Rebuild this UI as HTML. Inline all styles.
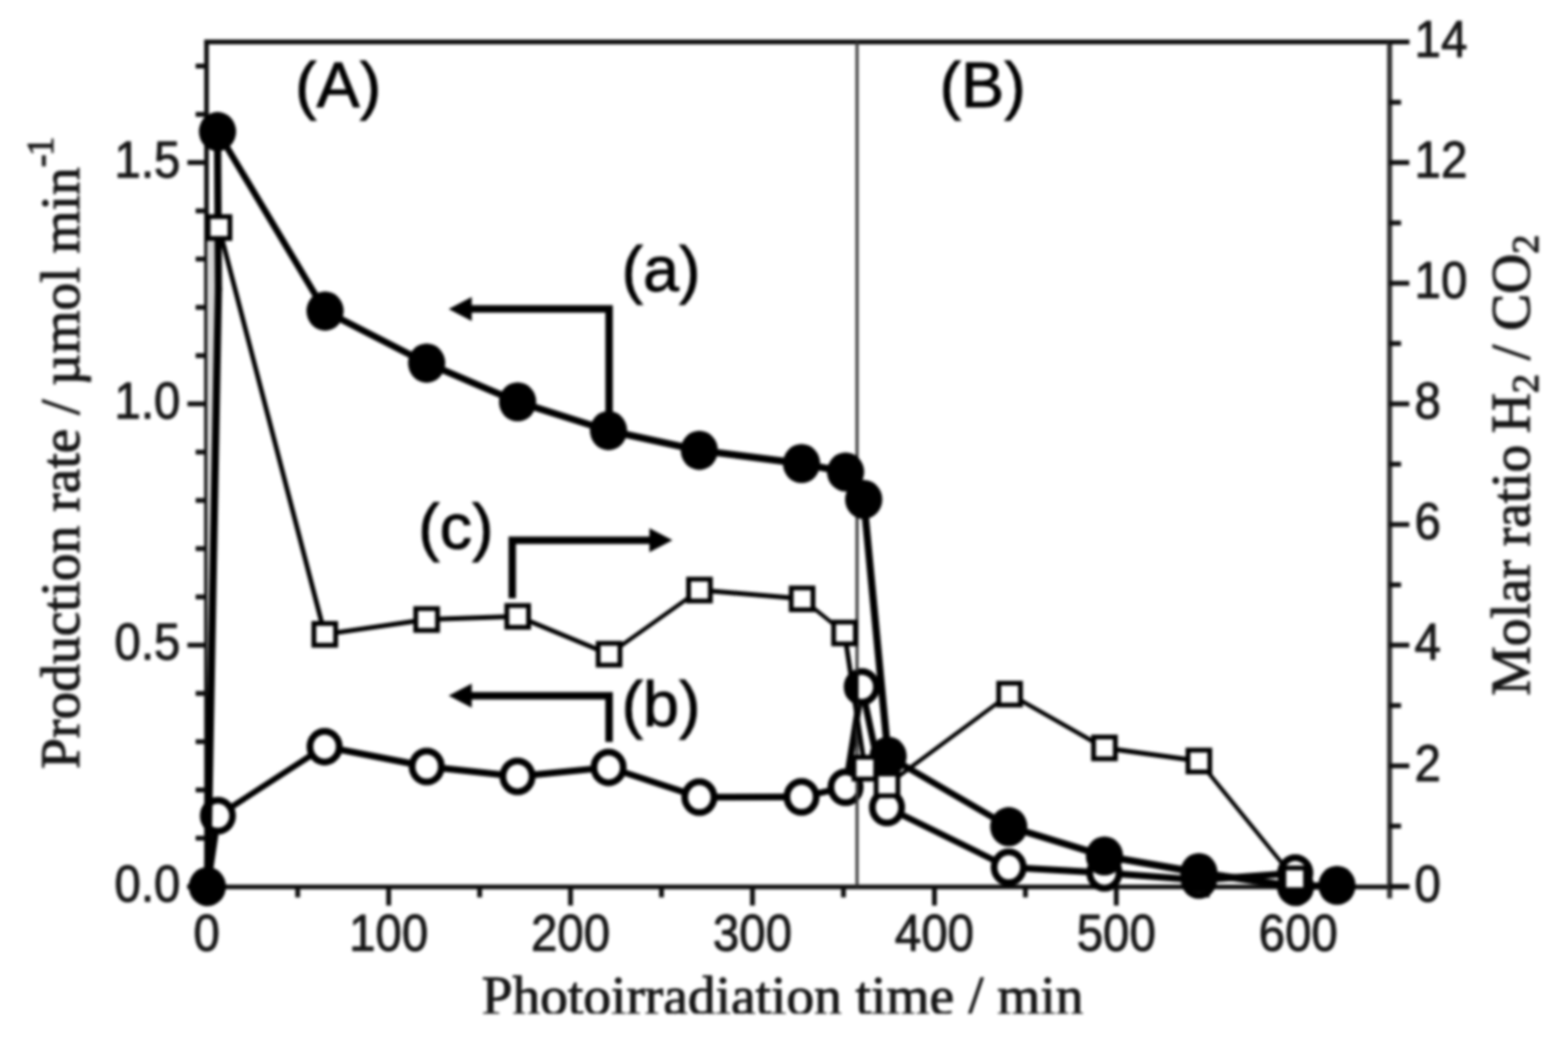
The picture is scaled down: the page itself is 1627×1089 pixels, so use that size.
<!DOCTYPE html>
<html lang="en"><head><meta charset="utf-8"><title>Production rate and molar ratio vs photoirradiation time</title>
<style>
html,body{margin:0;padding:0;background:#fff;}
body{width:1627px;height:1089px;overflow:hidden;}
svg{display:block;filter:blur(1.8px);}
text{stroke:#161616;stroke-linejoin:round;}
.tk{font-family:"Liberation Sans",sans-serif;font-size:48px;fill:#161616;stroke-width:0.9px;}
.lb{font-family:"Liberation Sans",sans-serif;font-size:67px;fill:#000;stroke-width:1.1px;}
.tt{font-family:"Liberation Serif",serif;font-size:57.5px;fill:#161616;stroke-width:1.1px;}
</style></head><body>
<svg width="1627" height="1089" viewBox="0 0 1627 1089">
<defs><clipPath id="cx"><rect x="0" y="0" width="1627" height="1051.3"/></clipPath></defs>
<rect x="0" y="0" width="1627" height="1089" fill="#fff"/>
<g stroke="#0c0c0c" stroke-width="4.8" fill="none" stroke-linecap="butt">
<line x1="211.9" y1="43.5" x2="1462.3" y2="43.5"/>
<line x1="194.5" y1="919.9" x2="1462.3" y2="919.9"/>
<line x1="214.3" y1="43.5" x2="214.3" y2="939.1999999999999"/>
<line x1="1441.9" y1="43.5" x2="1441.9" y2="931.6999999999999" stroke="#2e2e2e" stroke-width="5.2"/>
</g>
<g stroke="#0c0c0c" stroke-width="5.0" fill="none">
<line x1="194.5" y1="919.4" x2="214.3" y2="919.4"/>
<line x1="203.0" y1="869.3" x2="214.3" y2="869.3"/>
<line x1="203.0" y1="819.3" x2="214.3" y2="819.3"/>
<line x1="203.0" y1="769.2" x2="214.3" y2="769.2"/>
<line x1="203.0" y1="719.2" x2="214.3" y2="719.2"/>
<line x1="194.5" y1="669.1" x2="214.3" y2="669.1"/>
<line x1="203.0" y1="619.1" x2="214.3" y2="619.1"/>
<line x1="203.0" y1="569.0" x2="214.3" y2="569.0"/>
<line x1="203.0" y1="519.0" x2="214.3" y2="519.0"/>
<line x1="203.0" y1="468.9" x2="214.3" y2="468.9"/>
<line x1="194.5" y1="418.9" x2="214.3" y2="418.9"/>
<line x1="203.0" y1="368.8" x2="214.3" y2="368.8"/>
<line x1="203.0" y1="318.8" x2="214.3" y2="318.8"/>
<line x1="203.0" y1="268.7" x2="214.3" y2="268.7"/>
<line x1="203.0" y1="218.7" x2="214.3" y2="218.7"/>
<line x1="194.5" y1="168.6" x2="214.3" y2="168.6"/>
<line x1="203.0" y1="118.6" x2="214.3" y2="118.6"/>
<line x1="203.0" y1="68.5" x2="214.3" y2="68.5"/>
<line x1="1441.5" y1="919.4" x2="1462.3" y2="919.4"/>
<line x1="1441.5" y1="856.8" x2="1453.8" y2="856.8"/>
<line x1="1441.5" y1="794.3" x2="1462.3" y2="794.3"/>
<line x1="1441.5" y1="731.7" x2="1453.8" y2="731.7"/>
<line x1="1441.5" y1="669.1" x2="1462.3" y2="669.1"/>
<line x1="1441.5" y1="606.6" x2="1453.8" y2="606.6"/>
<line x1="1441.5" y1="544.0" x2="1462.3" y2="544.0"/>
<line x1="1441.5" y1="481.4" x2="1453.8" y2="481.4"/>
<line x1="1441.5" y1="418.9" x2="1462.3" y2="418.9"/>
<line x1="1441.5" y1="356.3" x2="1453.8" y2="356.3"/>
<line x1="1441.5" y1="293.8" x2="1462.3" y2="293.8"/>
<line x1="1441.5" y1="231.2" x2="1453.8" y2="231.2"/>
<line x1="1441.5" y1="168.6" x2="1462.3" y2="168.6"/>
<line x1="1441.5" y1="106.1" x2="1453.8" y2="106.1"/>
<line x1="1441.5" y1="43.5" x2="1462.3" y2="43.5"/>
<line x1="214.5" y1="919.4" x2="214.5" y2="939.2"/>
<line x1="308.9" y1="919.4" x2="308.9" y2="930.7"/>
<line x1="403.3" y1="919.4" x2="403.3" y2="939.2"/>
<line x1="497.7" y1="919.4" x2="497.7" y2="930.7"/>
<line x1="592.0" y1="919.4" x2="592.0" y2="939.2"/>
<line x1="686.4" y1="919.4" x2="686.4" y2="930.7"/>
<line x1="780.8" y1="919.4" x2="780.8" y2="939.2"/>
<line x1="875.2" y1="919.4" x2="875.2" y2="930.7"/>
<line x1="969.6" y1="919.4" x2="969.6" y2="939.2"/>
<line x1="1064.0" y1="919.4" x2="1064.0" y2="930.7"/>
<line x1="1158.3" y1="919.4" x2="1158.3" y2="939.2"/>
<line x1="1252.7" y1="919.4" x2="1252.7" y2="930.7"/>
<line x1="1347.1" y1="919.4" x2="1347.1" y2="939.2"/>
</g>
<g fill="none" stroke="#000" stroke-linecap="round"><line x1="215.2" y1="919.5" x2="226.1" y2="846.1" stroke-width="6.94"/><line x1="226.1" y1="846.1" x2="336.8" y2="774.4" stroke-width="6.16"/><line x1="336.8" y1="774.4" x2="442.8" y2="795.0" stroke-width="6.90"/><line x1="442.8" y1="795.0" x2="537.0" y2="805.2" stroke-width="6.97"/><line x1="537.0" y1="805.2" x2="631.5" y2="795.9" stroke-width="6.97"/><line x1="631.5" y1="795.9" x2="725.7" y2="826.8" stroke-width="6.74"/><line x1="725.7" y1="826.8" x2="831.7" y2="826.5" stroke-width="7.00"/><line x1="831.7" y1="826.5" x2="877.4" y2="816.5" stroke-width="6.88"/><line x1="877.4" y1="816.5" x2="894.2" y2="712.4" stroke-width="6.93"/><line x1="894.2" y1="712.4" x2="920.4" y2="837.5" stroke-width="6.89"/><line x1="920.4" y1="837.5" x2="1046.7" y2="899.6" stroke-width="6.46"/><line x1="1046.7" y1="899.6" x2="1146.0" y2="905.2" stroke-width="6.99"/><line x1="1146.0" y1="905.2" x2="1244.0" y2="912.8" stroke-width="6.98"/><line x1="1244.0" y1="912.8" x2="1344.0" y2="905.5" stroke-width="6.99"/></g>
<ellipse cx="226.1" cy="846.1" rx="15.2" ry="16.0" fill="#fff" stroke="#000" stroke-width="7.0"/>
<ellipse cx="336.8" cy="774.4" rx="15.2" ry="16.0" fill="#fff" stroke="#000" stroke-width="7.0"/>
<ellipse cx="442.8" cy="795.0" rx="15.2" ry="16.0" fill="#fff" stroke="#000" stroke-width="7.0"/>
<ellipse cx="537.0" cy="805.2" rx="15.2" ry="16.0" fill="#fff" stroke="#000" stroke-width="7.0"/>
<ellipse cx="631.5" cy="795.9" rx="15.2" ry="16.0" fill="#fff" stroke="#000" stroke-width="7.0"/>
<ellipse cx="725.7" cy="826.8" rx="15.2" ry="16.0" fill="#fff" stroke="#000" stroke-width="7.0"/>
<ellipse cx="831.7" cy="826.5" rx="15.2" ry="16.0" fill="#fff" stroke="#000" stroke-width="7.0"/>
<ellipse cx="877.4" cy="816.5" rx="15.2" ry="16.0" fill="#fff" stroke="#000" stroke-width="7.0"/>
<ellipse cx="894.2" cy="712.4" rx="15.2" ry="16.0" fill="#fff" stroke="#000" stroke-width="7.0"/>
<ellipse cx="920.4" cy="837.5" rx="15.2" ry="16.0" fill="#fff" stroke="#000" stroke-width="7.0"/>
<ellipse cx="1046.7" cy="899.6" rx="15.2" ry="16.0" fill="#fff" stroke="#000" stroke-width="7.0"/>
<ellipse cx="1146.0" cy="905.2" rx="15.2" ry="16.0" fill="#fff" stroke="#000" stroke-width="7.0"/>
<ellipse cx="1244.0" cy="912.8" rx="15.2" ry="16.0" fill="#fff" stroke="#000" stroke-width="7.0"/>
<ellipse cx="1344.0" cy="905.5" rx="15.2" ry="16.0" fill="#fff" stroke="#000" stroke-width="7.0"/>
<line x1="889.3" y1="43.5" x2="889.3" y2="919.4" stroke="#383838" stroke-width="3.1"/>
<path d="M890.6 695.6 A17.3 17.3 0 0 0 890.6 729.2 Z" fill="#000"/>
<polygon points="215,760 215,250 222.5,250 222.5,440" fill="#d4d4d4"/>
<g fill="none" stroke="#000" stroke-linecap="round"><line x1="215.2" y1="919.5" x2="226.6" y2="300.0" stroke-width="7.50"/><line x1="226.6" y1="300.0" x2="225.7" y2="136.4" stroke-width="7.50"/><line x1="225.7" y1="136.4" x2="337.3" y2="322.6" stroke-width="6.70"/><line x1="337.3" y1="322.6" x2="442.7" y2="376.6" stroke-width="6.88"/><line x1="442.7" y1="376.6" x2="537.1" y2="416.8" stroke-width="7.05"/><line x1="537.1" y1="416.8" x2="631.4" y2="446.6" stroke-width="7.24"/><line x1="631.4" y1="446.6" x2="725.6" y2="467.1" stroke-width="7.37"/><line x1="725.6" y1="467.1" x2="831.7" y2="480.8" stroke-width="7.45"/><line x1="831.7" y1="480.8" x2="877.4" y2="489.5" stroke-width="7.40"/><line x1="877.4" y1="489.5" x2="896.2" y2="518.0" stroke-width="6.57"/><line x1="896.2" y1="518.0" x2="921.5" y2="784.3" stroke-width="7.47"/><line x1="921.5" y1="784.3" x2="1046.7" y2="857.4" stroke-width="6.73"/><line x1="1046.7" y1="857.4" x2="1146.0" y2="887.8" stroke-width="7.25"/><line x1="1146.0" y1="887.8" x2="1244.0" y2="905.0" stroke-width="7.42"/><line x1="1244.0" y1="905.0" x2="1344.3" y2="919.5" stroke-width="7.44"/><line x1="1344.3" y1="919.5" x2="1387.3" y2="918.3" stroke-width="7.50"/></g>
<ellipse cx="215.2" cy="919.5" rx="19.3" ry="20.3" fill="#000"/>
<ellipse cx="225.7" cy="136.4" rx="19.3" ry="20.3" fill="#000"/>
<ellipse cx="337.3" cy="322.6" rx="19.3" ry="20.3" fill="#000"/>
<ellipse cx="442.7" cy="376.6" rx="19.3" ry="20.3" fill="#000"/>
<ellipse cx="537.1" cy="416.8" rx="19.3" ry="20.3" fill="#000"/>
<ellipse cx="631.4" cy="446.6" rx="19.3" ry="20.3" fill="#000"/>
<ellipse cx="725.6" cy="467.1" rx="19.3" ry="20.3" fill="#000"/>
<ellipse cx="831.7" cy="480.8" rx="19.3" ry="20.3" fill="#000"/>
<ellipse cx="877.4" cy="489.5" rx="19.3" ry="20.3" fill="#000"/>
<ellipse cx="896.2" cy="518.0" rx="19.3" ry="20.3" fill="#000"/>
<ellipse cx="921.5" cy="784.3" rx="19.3" ry="20.3" fill="#000"/>
<ellipse cx="1046.7" cy="857.4" rx="19.3" ry="20.3" fill="#000"/>
<ellipse cx="1146.0" cy="887.8" rx="19.3" ry="20.3" fill="#000"/>
<ellipse cx="1244.0" cy="905.0" rx="19.3" ry="20.3" fill="#000"/>
<ellipse cx="1344.3" cy="919.5" rx="19.3" ry="20.3" fill="#000"/>
<ellipse cx="1387.3" cy="918.3" rx="19.3" ry="20.3" fill="#000"/>
<g fill="none" stroke="#000" stroke-linecap="round"><line x1="215.2" y1="919.5" x2="227.3" y2="236.0" stroke-width="5.00"/><line x1="227.3" y1="236.0" x2="337.0" y2="657.9" stroke-width="4.88"/><line x1="337.0" y1="657.9" x2="442.7" y2="642.5" stroke-width="4.96"/><line x1="442.7" y1="642.5" x2="537.2" y2="639.3" stroke-width="5.00"/><line x1="537.2" y1="639.3" x2="632.0" y2="678.5" stroke-width="4.72"/><line x1="632.0" y1="678.5" x2="725.8" y2="612.0" stroke-width="4.31"/><line x1="725.8" y1="612.0" x2="832.3" y2="621.1" stroke-width="4.99"/><line x1="832.3" y1="621.1" x2="876.3" y2="656.5" stroke-width="4.17"/><line x1="876.3" y1="656.5" x2="897.4" y2="796.7" stroke-width="4.96"/><line x1="897.4" y1="796.7" x2="920.4" y2="814.0" stroke-width="4.25"/><line x1="920.4" y1="814.0" x2="1047.6" y2="719.9" stroke-width="4.26"/><line x1="1047.6" y1="719.9" x2="1146.0" y2="775.7" stroke-width="4.51"/><line x1="1146.0" y1="775.7" x2="1244.0" y2="789.3" stroke-width="4.96"/><line x1="1244.0" y1="789.3" x2="1343.4" y2="911.5" stroke-width="4.16"/></g>
<rect x="216.0" y="224.7" width="22.6" height="22.6" fill="#fff" stroke="#000" stroke-width="5.0"/>
<rect x="325.7" y="646.6" width="22.6" height="22.6" fill="#fff" stroke="#000" stroke-width="5.0"/>
<rect x="431.4" y="631.2" width="22.6" height="22.6" fill="#fff" stroke="#000" stroke-width="5.0"/>
<rect x="525.9" y="628.0" width="22.6" height="22.6" fill="#fff" stroke="#000" stroke-width="5.0"/>
<rect x="620.7" y="667.2" width="22.6" height="22.6" fill="#fff" stroke="#000" stroke-width="5.0"/>
<rect x="714.5" y="600.7" width="22.6" height="22.6" fill="#fff" stroke="#000" stroke-width="5.0"/>
<rect x="821.0" y="609.8" width="22.6" height="22.6" fill="#fff" stroke="#000" stroke-width="5.0"/>
<rect x="865.0" y="645.2" width="22.6" height="22.6" fill="#fff" stroke="#000" stroke-width="5.0"/>
<rect x="886.1" y="785.4" width="22.6" height="22.6" fill="#fff" stroke="#000" stroke-width="5.0"/>
<rect x="909.1" y="802.7" width="22.6" height="22.6" fill="#fff" stroke="#000" stroke-width="5.0"/>
<rect x="1036.3" y="708.6" width="22.6" height="22.6" fill="#fff" stroke="#000" stroke-width="5.0"/>
<rect x="1134.7" y="764.4" width="22.6" height="22.6" fill="#fff" stroke="#000" stroke-width="5.0"/>
<rect x="1232.7" y="778.0" width="22.6" height="22.6" fill="#fff" stroke="#000" stroke-width="5.0"/>
<rect x="1332.1" y="900.2" width="22.6" height="22.6" fill="#fff" stroke="#000" stroke-width="5.0"/>
<path d="M479.5 320.4 H632.0 V440.0" fill="none" stroke="#000" stroke-width="7.7" stroke-linejoin="miter"/><path d="M465.5 320.4 L489.5 307.9 L489.5 332.9 Z" fill="#000"/>
<path d="M479.5 721.6 H632.0 V769.5" fill="none" stroke="#000" stroke-width="7.7" stroke-linejoin="miter"/><path d="M465.5 721.6 L489.5 709.1 L489.5 734.1 Z" fill="#000"/>
<path d="M531.5 620.6 V560.3 H683.8" fill="none" stroke="#000" stroke-width="7.7" stroke-linejoin="miter"/><path d="M697.8 560.3 L673.8 547.8 L673.8 572.8 Z" fill="#000"/>
<text class="tk" transform="translate(187.2,934.7) scale(1.025,1.11)" text-anchor="end">0.0</text>
<text class="tk" transform="translate(187.2,684.4) scale(1.025,1.11)" text-anchor="end">0.5</text>
<text class="tk" transform="translate(187.2,434.2) scale(1.025,1.11)" text-anchor="end">1.0</text>
<text class="tk" transform="translate(187.2,183.9) scale(1.025,1.11)" text-anchor="end">1.5</text>
<text class="tk" transform="translate(1467.8,934.7) scale(1.025,1.11)">0</text>
<text class="tk" transform="translate(1467.8,809.6) scale(1.025,1.11)">2</text>
<text class="tk" transform="translate(1467.8,684.4) scale(1.025,1.11)">4</text>
<text class="tk" transform="translate(1467.8,559.3) scale(1.025,1.11)">6</text>
<text class="tk" transform="translate(1467.8,434.2) scale(1.025,1.11)">8</text>
<text class="tk" transform="translate(1467.8,309.1) scale(1.025,1.11)">10</text>
<text class="tk" transform="translate(1467.8,183.9) scale(1.025,1.11)">12</text>
<text class="tk" transform="translate(1467.8,58.8) scale(1.025,1.11)">14</text>
<text class="tk" transform="translate(214.5,985.6) scale(1.025,1.11)" text-anchor="middle">0</text>
<text class="tk" transform="translate(403.3,985.6) scale(1.025,1.11)" text-anchor="middle">100</text>
<text class="tk" transform="translate(592.0,985.6) scale(1.025,1.11)" text-anchor="middle">200</text>
<text class="tk" transform="translate(780.8,985.6) scale(1.025,1.11)" text-anchor="middle">300</text>
<text class="tk" transform="translate(969.6,985.6) scale(1.025,1.11)" text-anchor="middle">400</text>
<text class="tk" transform="translate(1158.3,985.6) scale(1.025,1.11)" text-anchor="middle">500</text>
<text class="tk" transform="translate(1347.1,985.6) scale(1.025,1.11)" text-anchor="middle">600</text>
<text class="lb" x="350.8" y="110.5" text-anchor="middle">(A)</text>
<text class="lb" x="1019.6" y="110.5" text-anchor="middle">(B)</text>
<text class="lb" x="686" y="302" text-anchor="middle">(a)</text>
<text class="lb" x="686" y="753" text-anchor="middle">(b)</text>
<text class="lb" x="473" y="569" text-anchor="middle">(c)</text>
<g clip-path="url(#cx)"><text class="tt" transform="translate(812,1051.8)" text-anchor="middle">Photoirradiation time / min</text></g>
<text class="tt" transform="translate(82.3,797.5) rotate(-90)">Production rate / µmol min<tspan font-size="40" dy="-27" letter-spacing="-1.5">-1</tspan></text>
<text class="tt" transform="translate(1587,721.5) rotate(-90)">Molar ratio <tspan dx="-2.5">H</tspan><tspan font-size="40" dy="8.5">2</tspan><tspan dy="-8.5"> / CO</tspan><tspan font-size="40" dy="8.5">2</tspan></text>
</svg></body></html>
